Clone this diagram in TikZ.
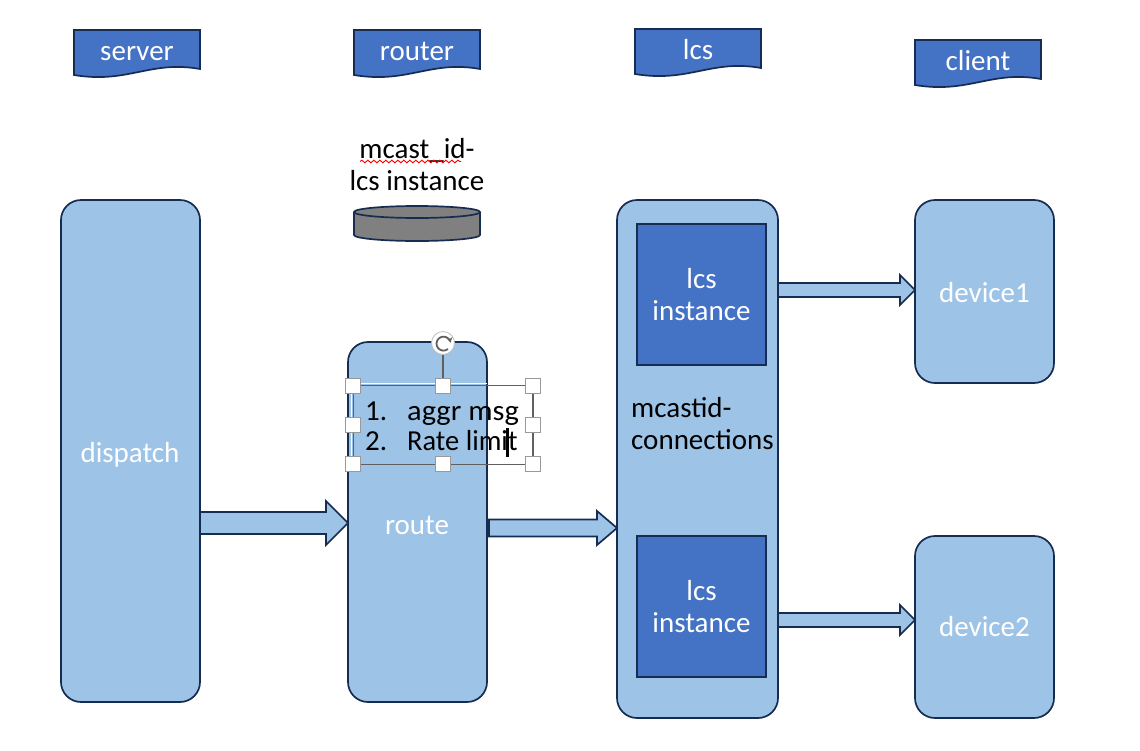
\documentclass[tikz,border=0pt]{standalone}
\usepackage{fontspec}
\setmainfont{Carlito}
\usetikzlibrary{calc,decorations.pathmorphing,arrows.meta}
\definecolor{lightb}{HTML}{9DC3E6}
\definecolor{darkb}{HTML}{4472C4}
\definecolor{edgeb}{HTML}{172C51}
\definecolor{handleg}{HTML}{606060}
\newcommand{\dfont}{\fontsize{29}{32}\selectfont}
\tikzset{
  x=1pt,y=-1pt,
  box/.style={draw=edgeb,line width=1.7pt,fill=lightb,rounded corners=20pt,inner sep=0pt,outer sep=0pt,anchor=north west,text=white,font=\dfont},
  inst/.style={draw=edgeb,line width=1.7pt,fill=darkb,inner sep=0pt,outer sep=0pt,anchor=north west,text=white,font=\dfont,align=center,minimum width=129pt,minimum height=141pt},
  label/.style={inner sep=0pt,font=\dfont,align=center},
  txt/.style={inner sep=0pt,anchor=base west,font=\dfont},
  bann/.style={draw=edgeb,line width=1.7pt,fill=darkb},
  barrow/.style={draw=edgeb,line width=1.7pt,fill=lightb,line join=miter},
  handle/.style={draw=black!40,fill=white,line width=.8pt,minimum size=15pt,inner sep=0pt},
}
% \banner{name}{left}{top}{text}
\newcommand{\banner}[4]{%
  \draw[bann] (#2,#3) -- (#2+126,#3) -- (#2+126,#3+39) .. controls (#2+76,#3+30) and (#2+54,#3+54) .. (#2,#3+45) -- cycle;
  \node[inner sep=0pt,text=white,font=\dfont,anchor=base] (#1) at (#2+63,#3+30) {#4};
}
% \blockarrow{from}{to}{y}{half shaft}{head length}{half head}
\newcommand{\blockarrow}[6]{%
  \draw[barrow] let \p1=(#1.east),\p2=(#2.west) in
    (\x1,#3-#4) -- (\x2-#5,#3-#4) -- (\x2-#5,#3-#6) -- (\x2,#3) -- (\x2-#5,#3+#6) -- (\x2-#5,#3+#4) -- (\x1,#3+#4) -- cycle;
}
\begin{document}
\begin{tikzpicture}
\useasboundingbox (0,0) rectangle (1140,750);
\fill[white] (0,0) rectangle (1140,750);

\banner{hserver}{74}{30}{server}
\banner{hrouter}{354}{30}{router}
\banner{hlcs}{635}{29}{lcs}
\banner{hclient}{915}{40}{client}

\node[box,minimum width=139pt,minimum height=502pt] (dispatch) at (61,200) {};
\node[text=white,inner sep=0pt,font=\dfont] (dispatchlabel) at (130,455) {dispatch};
\node[box,minimum width=139pt,minimum height=360pt] (route) at (348,342) {};
\node[text=white,inner sep=0pt,font=\dfont] (routelabel) at (417,525) {route};
\node[box,minimum width=161pt,minimum height=518pt] (lcsbox) at (617,200) {};
\node[inst] (inst1) at (637,224) {lcs\\instance};
\node[inst] (inst2) at (637,536) {lcs\\instance};
\node[txt] (conn1) at (631,417) {mcastid-};
\node[txt] (conn2) at (631,449) {connections};
\node[box,minimum width=139pt,minimum height=183pt,text depth=0pt] (device1) at (915,200) {\raisebox{-1pt}{device1}};
\node[box,minimum width=139pt,minimum height=182pt] (device2) at (915,536) {\raisebox{-2pt}{device2}};

\blockarrow{dispatch}{route}{523}{11}{22}{22}
\blockarrow{route}{lcsbox}{528}{8.5}{20}{17}
\draw[edgeb,line width=3pt] (488.5,520) -- (488.5,537);
\blockarrow{lcsbox}{device1}{290}{7}{15}{15}
\blockarrow{lcsbox}{device2}{620}{7}{15}{15}

% cylinder
\draw[draw=edgeb,line width=1.7pt,fill=gray] (354,212) -- (354,235) arc[start angle=180,end angle=360,x radius=63,y radius=-6] -- (480,212);
\draw[draw=edgeb,line width=1.7pt,fill=gray] (417,212) ellipse[x radius=63,y radius=6];
\node[label] (mcast) at (417,165) {mcast\_id-\\lcs instance};
\draw[red,line width=.9pt,decorate,decoration={snake,amplitude=1.4pt,segment length=6pt}] (360,161.5) -- (461,161.5);

% selection frame
\draw[white,line width=1.6pt] (351,383.3) -- (487,383.3);
\draw[white,line width=1.6pt] (351.5,383.3) -- (351.5,464);
\draw[handleg,line width=1.4pt] (353.5,385.5) rectangle (533,464.3);
\draw[handleg,line width=1.4pt] (443,385) -- (443,343);
\node[txt] (l1) at (365,420) {1.};
\node[txt] (l2) at (365,450) {2.};
\node[txt,xscale=1.05] (t1) at (407,420) {aggr msg};
\node[txt,xscale=.98] (t2) at (407,450) {Rate limit};
\draw[black,line width=2.5pt] (507.5,428) -- (507.5,457);
\foreach \px/\py in {352.7/385.7,442.7/385.7,532.7/385.7,352.7/425,532.7/425,352.7/464.3,442.7/464.3,532.7/464.3}
  \node[handle] at (\px,\py) {};
\node[circle,draw=black!25,fill=white,line width=.8pt,minimum size=23pt,inner sep=0pt] (rot) at (443,343) {};
\draw[handleg,line width=1.8pt,-{Stealth[length=5pt,width=6pt]}] (448,349) arc[start angle=50,end angle=350,radius=7];
\end{tikzpicture}
\end{document}
